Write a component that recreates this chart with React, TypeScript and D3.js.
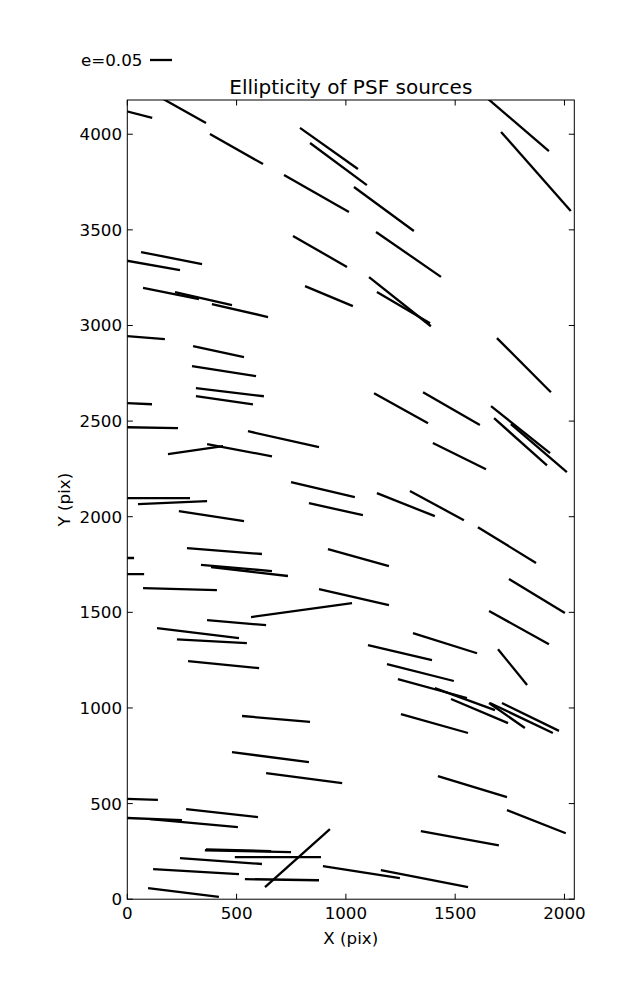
import React from "react";
import * as d3 from "d3";

// Whisker end points in data units (pix)
const x1 = [-10,163,378,790,836,717,1037,1138,1106,1142,1650,1710,758,63,-10,72,218,387,813,1691,1129,1353,1664,1678,1755,1398,-10,301,296,314,314,-10,-10,552,186,365,749,-10,49,236,831,-10,273,-10,337,383,918,72,877,566,365,136,227,278,1142,1293,1604,1746,1655,1307,1101,1696,1188,1238,1407,1481,1655,1714,1659,1252,1421,1737,1343,895,1160,525,479,635,-10,269,-10,104,355,360,492,241,118,538,630,95];
const y1 = [4122,4185,4001,4033,3954,3787,3724,3489,3253,3175,4185,4012,3468,3384,3340,3196,3175,3112,3206,2934,2646,2651,2578,2515,2484,2385,2945,2892,2788,2672,2630,2594,2468,2447,2327,2379,2181,2097,2066,2029,2071,1784,1836,1700,1748,1737,1831,1627,1622,1475,1459,1417,1359,1245,2123,2134,1945,1674,1507,1391,1328,1307,1229,1151,1104,1047,1026,1026,1026,968,644,466,356,173,152,958,769,659,525,471,425,419,256,261,220,215,157,105,63,58];
const x2 = [114,360,621,1055,1096,1014,1311,1435,1389,1385,1929,2029,1005,342,241,328,479,644,1032,1938,1376,1613,1934,1920,2011,1641,172,534,589,625,575,113,232,877,438,662,1041,287,365,534,1078,31,616,77,662,735,1197,410,1197,1028,635,511,547,603,1407,1540,1870,2002,1929,1600,1394,1829,1494,1554,1682,1742,1819,1975,1947,1559,1737,2006,1700,1247,1559,836,831,983,140,598,250,506,749,658,886,616,511,877,927,419];
const y2 = [4085,4059,3844,3818,3734,3593,3494,3254,2996,3012,3912,3599,3306,3321,3290,3138,3107,3044,3101,2651,2489,2479,2332,2269,2233,2248,2929,2835,2735,2630,2588,2588,2463,2364,2369,2316,2102,2097,2082,1977,2008,1784,1805,1700,1716,1690,1742,1616,1538,1548,1433,1365,1339,1208,2003,1982,1758,1496,1333,1286,1250,1120,1141,1052,989,921,895,880,869,869,534,345,282,110,63,927,717,607,519,429,413,377,246,251,220,184,131,99,366,12];

const xTicks = [0, 500, 1000, 1500, 2000];
const yTicks = [0, 500, 1000, 1500, 2000, 2500, 3000, 3500, 4000];
const xDomain = [0, 2045];
const yDomain = [0, 4179];
const titleText = "Ellipticity of PSF sources";
const legendText = "e=0.05";

const W = 637, H = 1000;
const L = 127.3, R = 574.3, T = 100, B = 899.2;
const font = "'DejaVu Sans', sans-serif";

export default function App() {
  const x = d3.scaleLinear().domain(xDomain).range([L, R]);
  const y = d3.scaleLinear().domain(yDomain).range([B, T]);
  const tick = 5.5;
  return (
    <svg width={W} height={H} style={{ position: "absolute", left: 0, top: 0, background: "#fff" }} fontFamily={font}>
      <defs>
        <clipPath id="plotclip">
          <rect x={L} y={T} width={R - L} height={B - T} />
        </clipPath>
      </defs>
      <rect x={0} y={0} width={W} height={H} fill="#fff" />
      <g clipPath="url(#plotclip)">
        {x1.map((_, i) => (
          <line key={i} x1={x(x1[i])} y1={y(y1[i])} x2={x(x2[i])} y2={y(y2[i])} stroke="#000" strokeWidth={2.3} />
        ))}
      </g>
      <rect x={L} y={T} width={R - L} height={B - T} fill="none" stroke="#000" strokeWidth={1} />
      {xTicks.map((t) => (
        <g key={"x" + t}>
          <line x1={x(t)} x2={x(t)} y1={B} y2={B - tick} stroke="#000" />
          <line x1={x(t)} x2={x(t)} y1={T} y2={T + tick} stroke="#000" />
          <text x={x(t)} y={919} textAnchor="middle" fontSize={16.7}>{t}</text>
        </g>
      ))}
      {yTicks.map((t) => (
        <g key={"y" + t}>
          <line x1={L} x2={L + tick} y1={y(t)} y2={y(t)} stroke="#000" />
          <line x1={R} x2={R - tick} y1={y(t)} y2={y(t)} stroke="#000" />
          <text x={122} y={y(t)} dy="0.36em" textAnchor="end" fontSize={16.7}>{t}</text>
        </g>
      ))}
      <text x={(L + R) / 2} y={944} textAnchor="middle" fontSize={16.7}>X (pix)</text>
      <text transform={`translate(70,${(T + B) / 2}) rotate(-90)`} textAnchor="middle" fontSize={16.7}>Y (pix)</text>
      <text x={(L + R) / 2} y={94} textAnchor="middle" fontSize={20}>{titleText}</text>
      <text x={81} y={66} fontSize={16.7}>{legendText}</text>
      <line x1={150} x2={172} y1={60} y2={60} stroke="#000" strokeWidth={2.3} />
    </svg>
  );
}
